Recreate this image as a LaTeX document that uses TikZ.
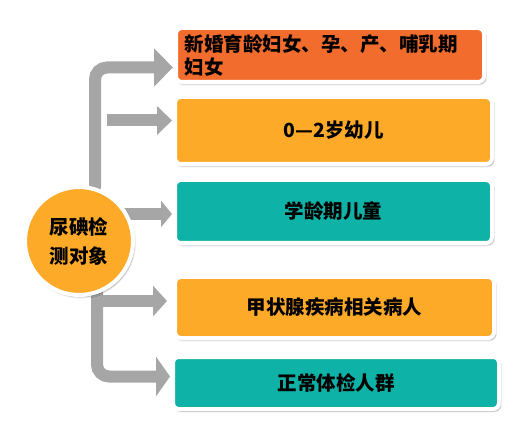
\documentclass[tikz,border=0pt]{standalone}
\usepackage{fontspec}
\newfontfamily\cjk{Noto Sans CJK SC}
\usetikzlibrary{arrows.meta,calc,backgrounds,shadows.blur}
\definecolor{myred}{RGB}{242,108,45}
\definecolor{myorange}{RGB}{253,170,40}
\definecolor{myteal}{RGB}{15,178,167}
\definecolor{mygray}{RGB}{166,166,166}

\begin{document}
\begin{tikzpicture}[x=1pt,y=1pt,
  every node/.style={font=\cjk\bfseries\fontsize{19.5pt}{23pt}\selectfont},
  itembox/.style={draw=white,line width=4pt,rounded corners=6pt,inner sep=0pt,
    align=center,blur shadow={shadow xshift=1.5pt,shadow yshift=-2pt,
    shadow opacity=40,shadow blur steps=6}},
  garrow/.style={draw=mygray,line width=12pt,rounded corners=12pt}]
  \useasboundingbox (0,0) rectangle (526,436);
  % target groups
  \node[itembox,fill=myred,minimum width=308pt,minimum height=54pt,
        text width=291pt,align=left] (b1) at (330,381)
    {新婚育龄妇女、孕、产、哺乳期\\妇女};
  \node[itembox,fill=myorange,minimum width=317pt,minimum height=67pt] (b2)
    at (333.5,305.5) {0—2岁幼儿};
  \node[itembox,fill=myteal,minimum width=317pt,minimum height=63pt] (b3)
    at (333.5,224.5) {学龄期儿童};
  \node[itembox,fill=myorange,minimum width=319pt,minimum height=61pt] (b4)
    at (334.5,128.5) {甲状腺疾病相关病人};
  \node[itembox,fill=myteal,minimum width=326pt,minimum height=52pt] (b5)
    at (336,53) {正常体检人群};
  % centre circle
  \node[circle,draw=white,line width=4pt,fill=myorange,minimum size=108pt,
        inner sep=0pt,align=center,
        font=\cjk\bfseries\fontsize{19.5pt}{29pt}\selectfont,
        blur shadow={shadow xshift=1.5pt,shadow yshift=-2pt,
        shadow opacity=40,shadow blur steps=6}] (circ) at (79,195)
    {尿碘检\\测对象};
  \begin{scope}[on background layer]
    \draw[garrow,line cap=round,-{Triangle[length=19pt,width=37pt]}]
      ($(circ.center)+(16,54)$) |- ($(b1.west)+(-1,-12.5)$);
    \draw[garrow,-{Triangle[length=15pt,width=28pt]}]
      ($(b2.west)+(-66,10)$) -- ($(b2.west)+(-1,10)$);
    \draw[garrow,-{Triangle[length=11pt,width=26pt]}]
      ($(circ.center)+(30,27)$) -- ($(b3.west)+(-1,-2.5)$);
    \draw[garrow,-{Triangle[length=14pt,width=30pt]}]
      ($(circ.center)+(18,-60)$) -- ($(b4.west)+(-6,6.5)$);
    \draw[garrow,-{Triangle[length=14pt,width=39pt]}]
      ($(circ.center)+(18,-49)$) |- ($(b5.west)+(-1,6.5)$);
  \end{scope}
\end{tikzpicture}
\end{document}
